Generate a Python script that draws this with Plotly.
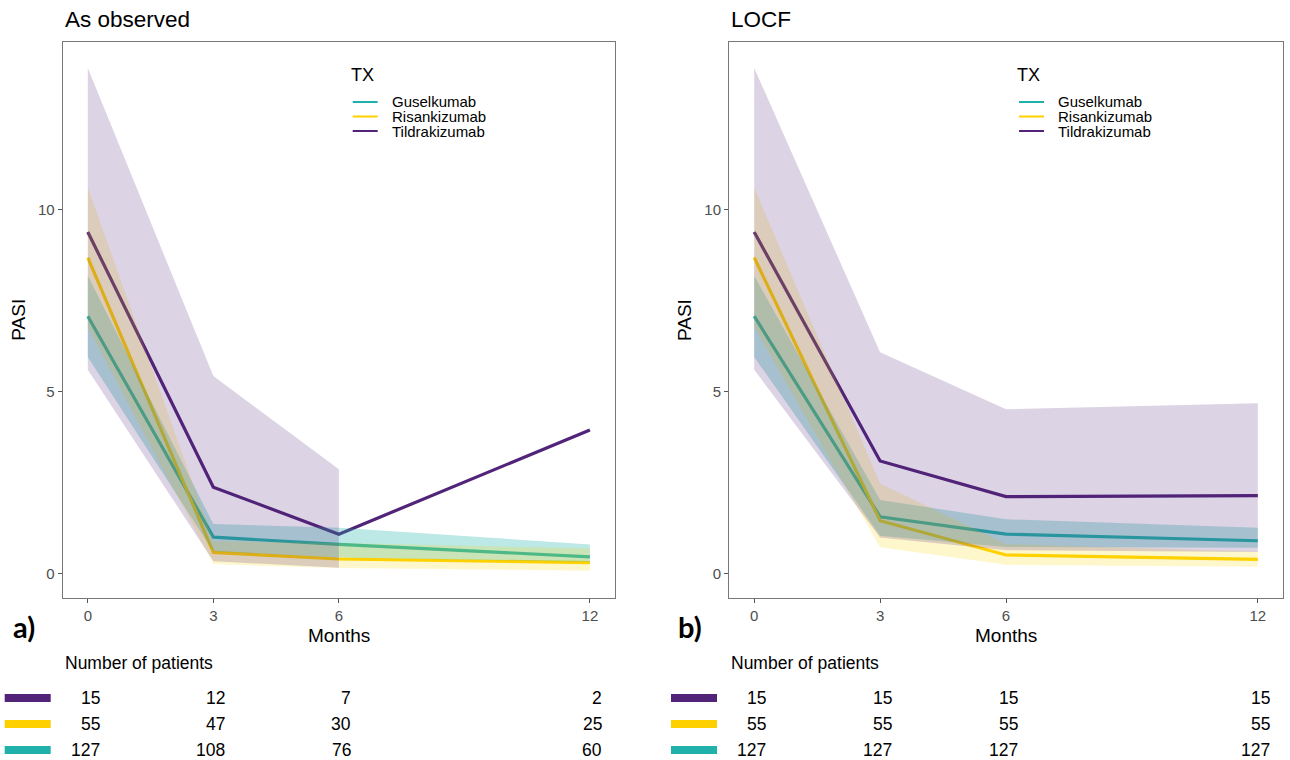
import plotly.graph_objects as go

W, H = 1290, 760

months = [0, 3, 6, 12]
month_labels = ["0", "3", "6", "12"]
treatments = ["Guselkumab", "Risankizumab", "Tildrakizumab"]
line_colors = ["#20B2AA", "#FFD000", "#512479"]
band_colors = ["rgba(32,178,170,0.30)", "rgba(255,215,0,0.20)", "rgba(81,36,121,0.20)"]

# ---- Panel a) As observed ----
obs_gus_mean = [7.07, 1.01, 0.81, 0.47]
obs_gus_low = [5.95, 0.62, 0.45, 0.33]
obs_gus_up = [8.18, 1.37, 1.27, 0.81]
obs_ris_mean = [8.68, 0.59, 0.41, 0.31]
obs_ris_low = [6.77, 0.27, 0.16, 0.09]
obs_ris_up = [10.60, 0.90, 0.85, 0.70]
obs_til_mean = [9.38, 2.38, 1.09, 3.95]
obs_til_low = [5.60, 0.35, 0.17, None]
obs_til_up = [13.88, 5.43, 2.87, None]

# ---- Panel b) LOCF ----
locf_gus_mean = [7.07, 1.57, 1.09, 0.91]
locf_gus_low = [5.95, 1.05, 0.74, 0.72]
locf_gus_up = [8.18, 2.03, 1.50, 1.27]
locf_ris_mean = [8.68, 1.46, 0.52, 0.40]
locf_ris_low = [6.77, 0.73, 0.25, 0.20]
locf_ris_up = [10.60, 2.48, 0.82, 0.61]
locf_til_mean = [9.38, 3.10, 2.12, 2.15]
locf_til_low = [5.60, 1.00, 0.65, 0.60]
locf_til_up = [13.88, 6.08, 4.52, 4.68]

# ---- Number of patients ----
n_obs_til = [15, 12, 7, 2]
n_obs_ris = [55, 47, 30, 25]
n_obs_gus = [127, 108, 76, 60]
n_locf_til = [15, 15, 15, 15]
n_locf_ris = [55, 55, 55, 55]
n_locf_gus = [127, 127, 127, 127]

panels = [
    dict(title="As observed", tag="a)", xa="x", ya="y",
         mean=[obs_gus_mean, obs_ris_mean, obs_til_mean],
         low=[obs_gus_low, obs_ris_low, obs_til_low],
         up=[obs_gus_up, obs_ris_up, obs_til_up],
         n=[n_obs_til, n_obs_ris, n_obs_gus],
         px=(62.7, 615.0)),
    dict(title="LOCF", tag="b)", xa="x2", ya="y2",
         mean=[locf_gus_mean, locf_ris_mean, locf_til_mean],
         low=[locf_gus_low, locf_ris_low, locf_til_low],
         up=[locf_gus_up, locf_ris_up, locf_til_up],
         n=[n_locf_til, n_locf_ris, n_locf_gus],
         px=(729.0, 1283.0)),
]

FONT = "Liberation Sans, Arial, Helvetica, sans-serif"
fig = go.Figure()

for p in panels:
    # lines first
    for i, t in enumerate(treatments):
        fig.add_trace(go.Scatter(
            x=months, y=p["mean"][i], mode="lines", name=t,
            line=dict(color=line_colors[i], width=3.2),
            xaxis=p["xa"], yaxis=p["ya"], showlegend=False))
    # ribbons drawn on top (semi-transparent)
    for i, t in enumerate(treatments):
        xs = [m for m, lo in zip(months, p["low"][i]) if lo is not None]
        lo = [v for v in p["low"][i] if v is not None]
        up = [v for v in p["up"][i] if v is not None]
        fig.add_trace(go.Scatter(
            x=xs + xs[::-1], y=up + lo[::-1], mode="lines", fill="toself",
            fillcolor=band_colors[i], line=dict(width=0, color=band_colors[i]),
            hoverinfo="skip", showlegend=False,
            xaxis=p["xa"], yaxis=p["ya"]))

y_top, y_bot = 41.7, 598.0
ydom = [1 - y_bot / H, 1 - y_top / H]

axis_common = dict(showline=True, mirror=True, linecolor="#777777", linewidth=1,
                   ticks="outside", ticklen=4, tickcolor="#555555",
                   tickfont=dict(size=15, color="#4d4d4d", family=FONT),
                   showgrid=False, zeroline=False)

layout = dict(width=W, height=H, autosize=False, showlegend=False,
              margin=dict(l=0, r=0, t=0, b=0),
              paper_bgcolor="white", plot_bgcolor="white",
              font=dict(family=FONT, color="black"))

annotations = []
shapes = []
for k, p in enumerate(panels):
    sfx = "" if k == 0 else "2"
    x0p, x1p = p["px"]
    layout["xaxis" + sfx] = dict(domain=[x0p / W, x1p / W], range=[-0.6, 12.6],
                                 tickvals=months, ticktext=month_labels,
                                 anchor="y" + sfx, **axis_common)
    layout["yaxis" + sfx] = dict(domain=ydom, range=[-0.66, 14.6],
                                 tickvals=[0, 5, 10], ticktext=["0", "5", "10"],
                                 anchor="x" + sfx, **axis_common)
    # legend (key)
    annotations.append(dict(text="TX", x=(x0p + 286) / W, y=1 - 75 / H, xref="paper", yref="paper",
                            xanchor="left", yanchor="middle", showarrow=False,
                            font=dict(size=18, family=FONT)))
    leg_y = [102, 116.5, 131]
    for i, t in enumerate(treatments):
        shapes.append(dict(type="line", xref="paper", yref="paper",
                           x0=(x0p + 290) / W, x1=(x0p + 315) / W,
                           y0=1 - leg_y[i] / H, y1=1 - leg_y[i] / H,
                           line=dict(color=line_colors[i], width=2)))
        annotations.append(dict(text=t, x=(x0p + 327) / W, y=1 - leg_y[i] / H,
                                xref="paper", yref="paper", xanchor="left", yanchor="middle",
                                showarrow=False, font=dict(size=15, family=FONT)))
    # titles
    annotations.append(dict(text=p["title"], x=x0p / W, y=1 - 19.5 / H, xref="paper", yref="paper",
                            xanchor="left", yanchor="middle", showarrow=False,
                            font=dict(size=22.5, family=FONT)))
    annotations.append(dict(text="Months", x=(x0p + x1p) / 2 / W, y=1 - 635 / H,
                            xref="paper", yref="paper", xanchor="center", yanchor="middle",
                            showarrow=False, font=dict(size=19, family=FONT)))
    annotations.append(dict(text="PASI", x=(x0p - 45) / W, y=1 - 320 / H, textangle=-90,
                            xref="paper", yref="paper", xanchor="center", yanchor="middle",
                            showarrow=False, font=dict(size=19, family=FONT)))
    annotations.append(dict(text="<b>" + p["tag"] + "</b>", x=(x0p - 39) / W, y=1 - 626 / H,
                            xref="paper", yref="paper", xanchor="center", yanchor="middle",
                            showarrow=False, font=dict(size=29, family="Lato, Open Sans, sans-serif")))
    annotations.append(dict(text="Number of patients", x=(x0p) / W, y=1 - 663 / H,
                            xref="paper", yref="paper", xanchor="left", yanchor="middle",
                            showarrow=False, font=dict(size=17.5, family=FONT)))
    row_y = [698, 724, 750]
    row_colors = [line_colors[2], line_colors[1], line_colors[0]]
    for r in range(3):
        shapes.append(dict(type="rect", xref="paper", yref="paper",
                           x0=(x0p - 58) / W, x1=(x0p - 12) / W,
                           y0=1 - (row_y[r] - 4) / H, y1=1 - (row_y[r] + 4) / H,
                           fillcolor=row_colors[r], line=dict(width=0)))
        for j, m in enumerate(months):
            annotations.append(dict(text=str(p["n"][r][j]), x=m, xref="x" + sfx,
                                    y=1 - row_y[r] / H, yref="paper",
                                    xanchor="right", yanchor="middle", xshift=14,
                                    showarrow=False, font=dict(size=17.5, family=FONT)))

layout["annotations"] = annotations
layout["shapes"] = shapes
fig.update_layout(**layout)
fig.write_html("out.html")
